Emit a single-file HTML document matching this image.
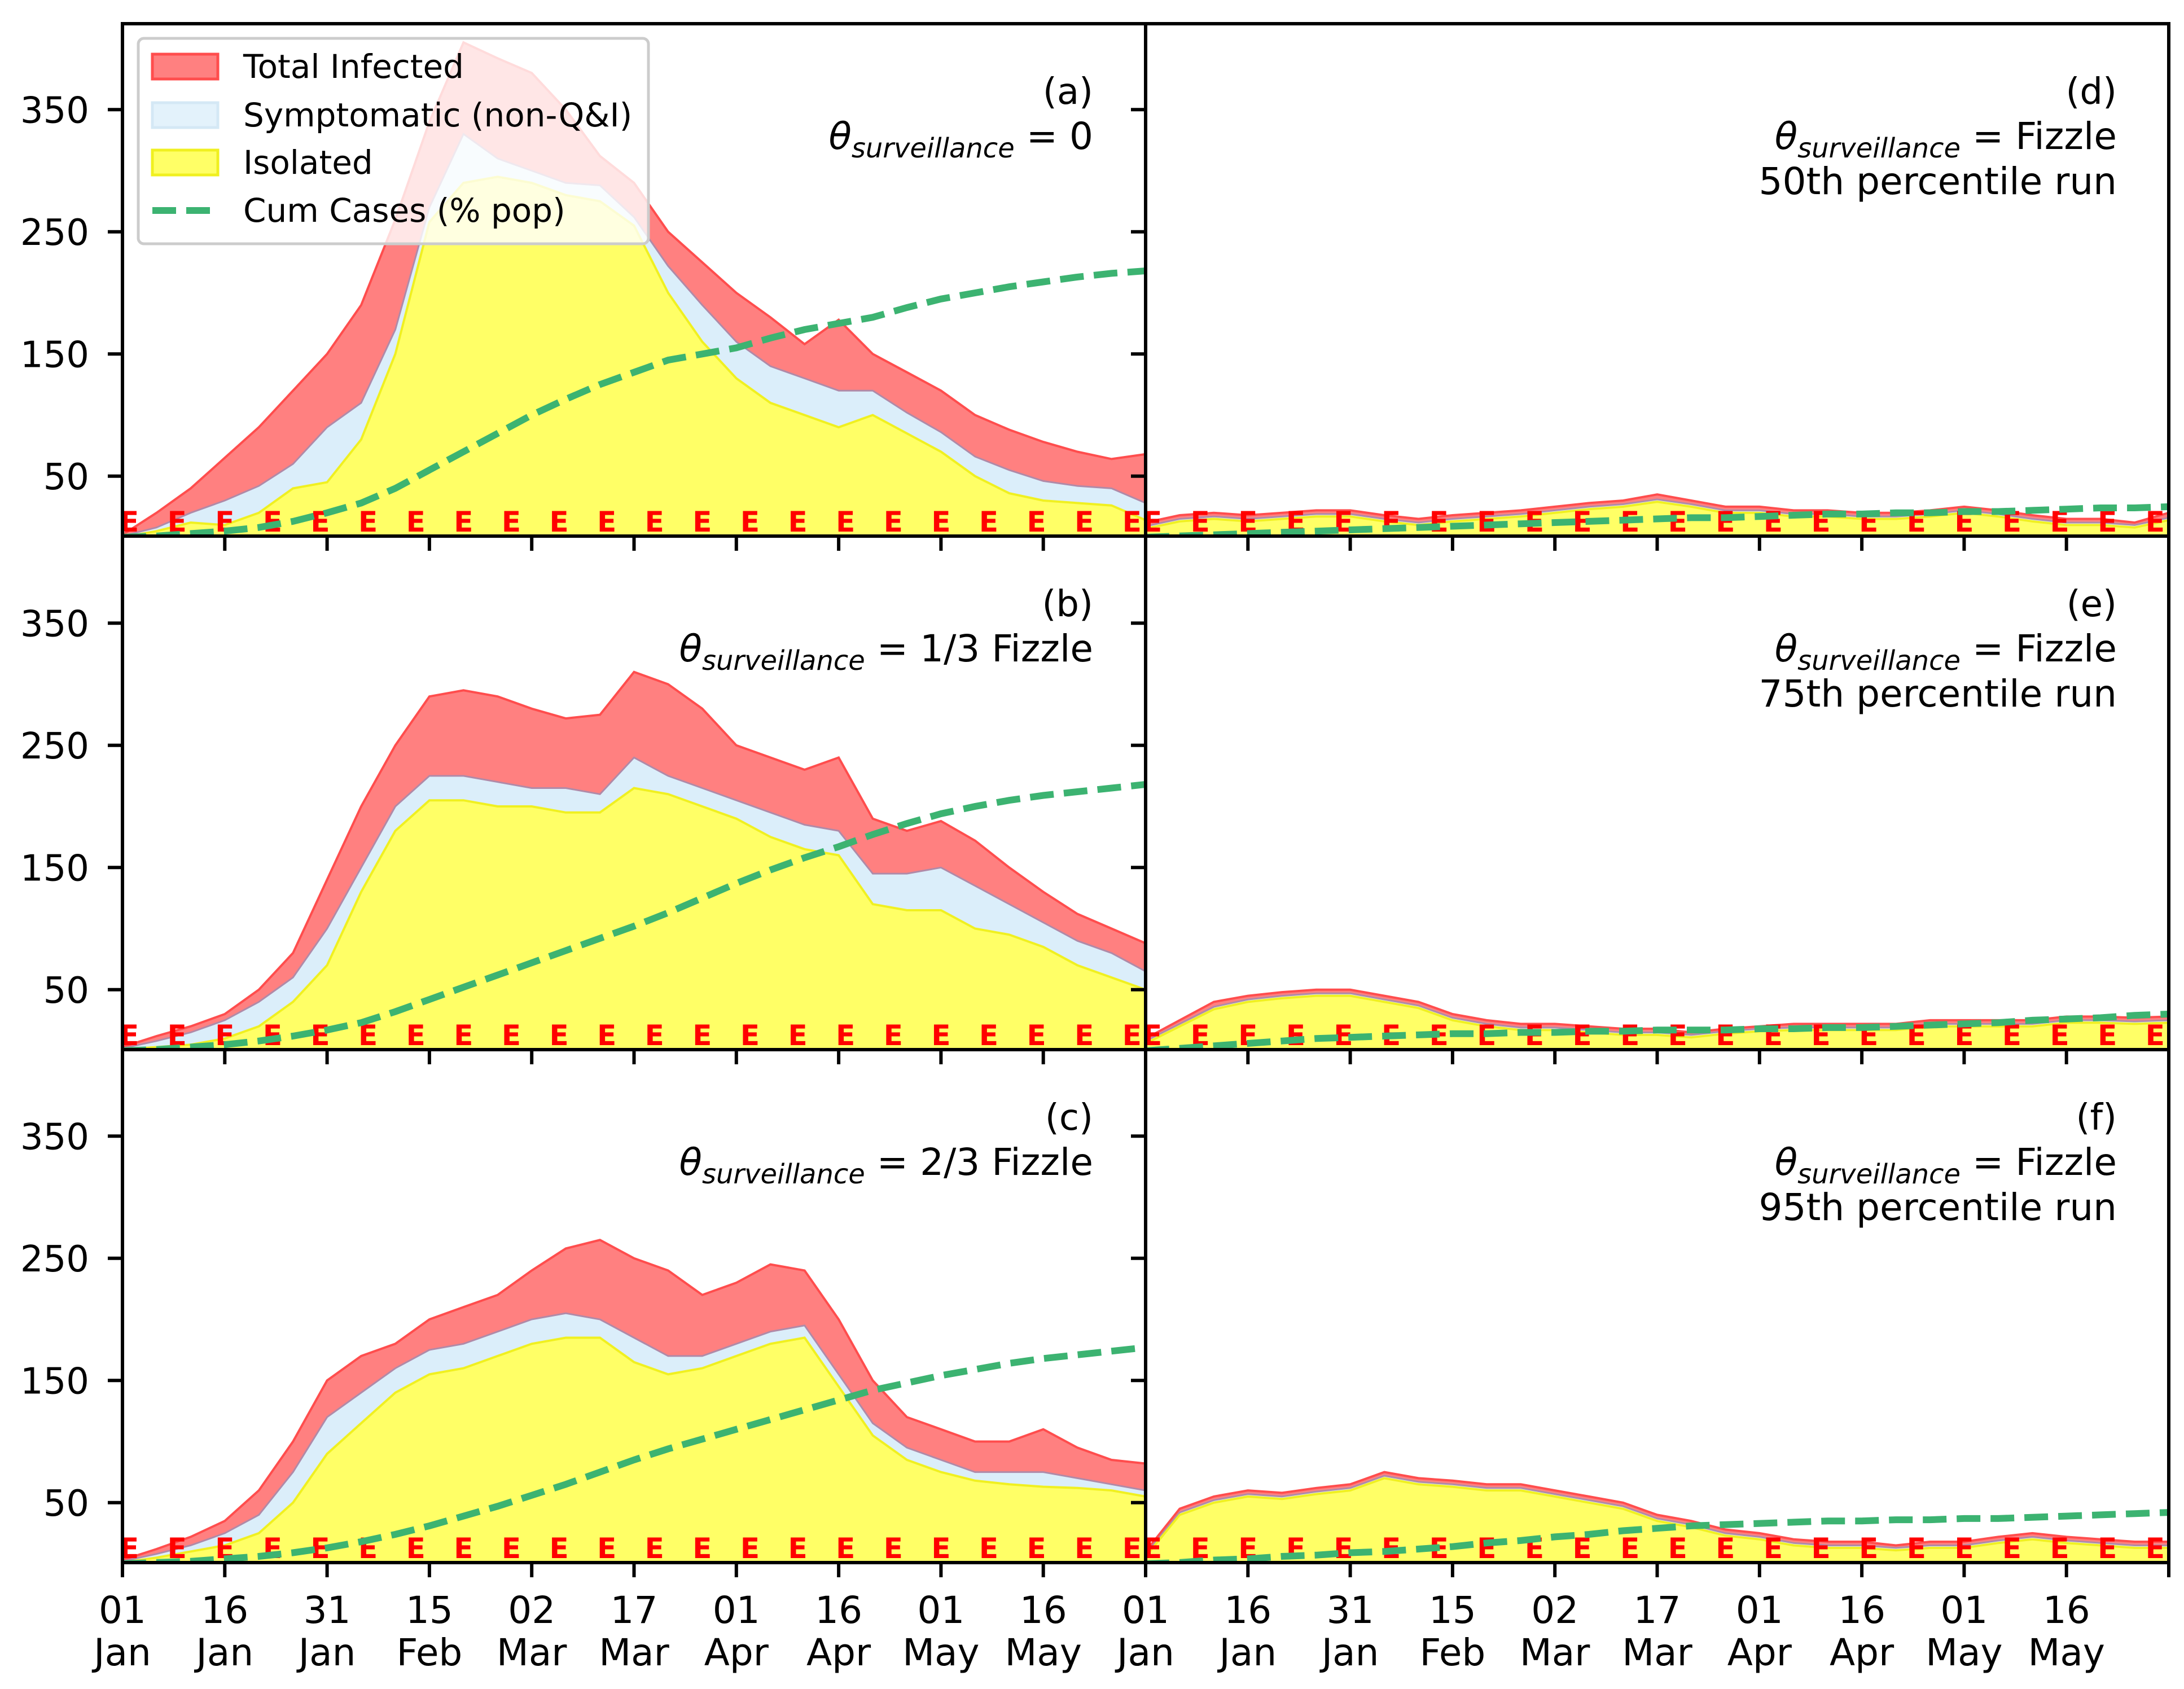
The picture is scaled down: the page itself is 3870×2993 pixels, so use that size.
<!DOCTYPE html>
<html><head><meta charset="utf-8"><style>
html,body{margin:0;padding:0;background:#fff;}
svg{display:block;font-family:"DejaVu Sans","Liberation Sans",sans-serif;}
</style></head><body>
<svg id="chart" xmlns="http://www.w3.org/2000/svg" width="3870" height="2993" viewBox="0 0 3870 2993"></svg>
<script>
// ---- data (values every 5 days, day 0..150) ----
const days = [0,5,10,15,20,25,30,35,40,45,50,55,60,65,70,75,80,85,90,95,100,105,110,115,120,125,130,135,140,145,150];
const panelLabels = ["(a)","(b)","(c)","(d)","(e)","(f)"];
const thetaValues = ["0","1/3 Fizzle","2/3 Fizzle","Fizzle","Fizzle","Fizzle"];
const runLabels = ["","","","50th percentile run","75th percentile run","95th percentile run"];
const yTicks = [50,150,250,350];
const xTickDays = [0,15,30,45,60,75,90,105,120,135,150];
const xTickTop = ["01","16","31","15","02","17","01","16","01","16","01"];
const xTickBottom = ["Jan","Jan","Jan","Feb","Mar","Mar","Apr","Apr","May","May","Jan"];
const eDays = [1,8,15,22,29,36,43,50,57,64,71,78,85,92,99,106,113,120,127,134,141,148];

const totalA = [2,20,40,65,90,120,150,190,260,340,405,392,380,350,312,290,250,225,200,180,158,178,150,135,120,100,88,78,70,64,68];
const symA   = [1,8,20,30,42,60,90,110,170,270,330,310,300,290,288,262,222,190,160,140,130,120,120,102,86,66,55,46,42,40,28];
const isoA   = [0,5,12,10,20,40,45,80,150,258,290,295,290,280,275,255,200,160,130,110,100,90,100,85,70,50,36,30,28,26,14];
const cumA   = [0,1,3,5,8,13,20,28,40,55,70,85,100,113,125,135,145,150,155,163,170,175,180,188,195,200,205,209,213,216,218];

const totalB = [3,12,20,30,50,80,140,200,250,290,295,290,280,272,275,310,300,280,250,240,230,240,190,180,188,172,150,130,112,100,88];
const symB   = [2,8,15,25,40,60,100,150,200,225,225,220,215,215,210,240,225,215,205,195,185,180,145,145,150,135,120,105,90,80,65];
const isoB   = [1,3,5,10,20,40,70,130,180,205,205,200,200,195,195,215,210,200,190,175,165,160,120,115,115,100,95,85,70,60,50];
const cumB   = [0,1,3,5,8,12,17,23,32,42,52,62,72,82,92,102,113,125,137,148,158,167,177,186,194,200,205,209,212,215,218];

const totalC = [3,12,22,35,60,100,150,170,180,200,210,220,240,258,265,250,240,220,230,245,240,200,150,120,110,100,100,110,95,85,82];
const symC   = [2,8,15,25,40,75,120,140,160,175,180,190,200,205,200,185,170,170,180,190,195,155,115,95,85,75,75,75,70,65,60];
const isoC   = [1,5,10,15,25,50,90,115,140,155,160,170,180,185,185,165,155,160,170,180,185,145,105,85,75,68,65,63,62,60,55];
const cumC   = [0,1,2,4,6,9,13,18,24,31,39,47,56,65,75,85,94,102,110,118,126,134,142,148,154,159,164,168,171,174,177];

const totalD = [12,18,20,18,20,22,22,18,15,18,20,22,25,28,30,35,30,25,25,22,22,20,20,22,25,22,18,15,15,12,20];
const symD   = [9,15,17,15,17,19,19,15,12,15,17,19,22,25,27,31,27,22,22,19,19,17,17,19,22,19,15,12,12,10,16];
const isoD   = [7,13,15,13,15,17,17,13,10,13,15,17,20,23,25,29,25,20,20,17,17,15,15,17,20,17,13,10,10,8,14];
const cumD   = [0,1,2,3,4,5,6,7,8,9,10,11,12,13,14,15,16,16,17,18,19,19,20,20,21,21,22,23,24,24,25];

const totalE = [10,25,40,45,48,50,50,45,40,30,25,22,22,20,18,18,15,18,20,22,22,22,22,25,25,25,25,28,28,27,28];
const symE   = [8,22,36,42,45,47,47,42,37,27,22,19,19,17,15,15,13,16,18,19,19,19,19,22,22,22,22,25,25,24,25];
const isoE   = [6,20,34,40,43,45,45,40,35,25,20,17,17,15,13,13,11,14,16,17,17,17,17,20,20,20,20,23,23,22,23];
const cumE   = [0,2,4,6,8,10,11,12,13,14,14,15,15,16,16,17,17,17,18,18,19,19,20,21,22,23,25,26,27,29,30];

const totalF = [10,45,55,60,58,62,65,75,70,68,65,65,60,55,50,40,35,28,25,20,18,18,15,18,18,22,25,22,20,18,18];
const symF   = [8,42,52,57,55,59,62,72,67,65,62,62,57,52,47,37,32,25,22,17,15,15,13,15,15,19,22,19,17,15,15];
const isoF   = [6,40,50,55,53,57,60,70,65,63,60,60,55,50,45,35,30,23,20,15,13,13,11,13,13,17,20,17,15,13,13];
const cumF   = [0,1,3,4,6,7,9,10,12,14,17,19,22,24,27,29,31,32,33,34,35,35,36,36,37,37,38,39,40,41,42];

const totals = [totalA,totalB,totalC,totalD,totalE,totalF];
const syms = [symA,symB,symC,symD,symE,symF];
const isos = [isoA,isoB,isoC,isoD,isoE,isoF];
const cums = [cumA,cumB,cumC,cumD,cumE,cumF];

// ---- layout ----
const NS = "http://www.w3.org/2000/svg";
const svg = document.getElementById('chart');
const colX = [217, 2030];
const panelW = 1813;
const rowTop = [42, 950, 1860];
const rowBot = [950, 1860, 2769];
const pxPerUnit = 2.165;
function mk(tag, attrs, parent) {
  const e = document.createElementNS(NS, tag);
  for (const k in attrs) e.setAttribute(k, attrs[k]);
  (parent || svg).appendChild(e);
  return e;
}
function xScale(col, d) { return colX[col] + d / 150 * panelW; }
function yScale(row, v) { return rowBot[row] + 2 - v * pxPerUnit; }

const defs = mk('defs', {});
for (let p = 0; p < 6; p++) {
  const col = p < 3 ? 0 : 1, row = p % 3;
  const cp = mk('clipPath', {id: 'clip' + p}, defs);
  mk('rect', {x: colX[col], y: rowTop[row], width: panelW, height: rowBot[row] - rowTop[row]}, cp);
}

function areaPath(col, row, arr) {
  let s = 'M' + xScale(col, days[0]) + ',' + yScale(row, 0);
  for (let i = 0; i < days.length; i++) s += 'L' + xScale(col, days[i]).toFixed(1) + ',' + yScale(row, arr[i]).toFixed(1);
  s += 'L' + xScale(col, days[days.length - 1]) + ',' + yScale(row, 0) + 'Z';
  return s;
}
function linePath(col, row, arr) {
  let s = '';
  for (let i = 0; i < days.length; i++) s += (i ? 'L' : 'M') + xScale(col, days[i]).toFixed(1) + ',' + yScale(row, arr[i]).toFixed(1);
  return s;
}

for (let p = 0; p < 6; p++) {
  const col = p < 3 ? 0 : 1, row = p % 3;
  const g = mk('g', {'clip-path': 'url(#clip' + p + ')'});
  
  
  const a1 = mk('path', {d: areaPath(col, row, totals[p]), fill: '#ff8080', stroke: '#ff4d4d', 'stroke-width': 4}, g);
  
  
  const a2 = mk('path', {d: areaPath(col, row, syms[p]), fill: '#dbeefa', stroke: '#b08aa8', 'stroke-width': 3}, g);
  
  
  const a3 = mk('path', {d: areaPath(col, row, isos[p]), fill: '#ffff66', stroke: '#f0f020', 'stroke-width': 4}, g);
  
  
  for (const d of eDays) {
    const t = mk('text', {x: xScale(col, d), y: yScale(row, 13) + 18, fill: '#ff0000', 'font-size': 50, 'font-weight': 'bold', 'text-anchor': 'middle', transform: 'scale(1,1)'}, g);
    t.textContent = 'E';
    
    
  }
  const cl = mk('path', {d: linePath(col, row, cums[p]), fill: 'none', stroke: '#3cb371', 'stroke-width': 12, 'stroke-dasharray': '42 18'}, g);
  
  

  const fr = mk('rect', {x: colX[col], y: rowTop[row], width: panelW, height: rowBot[row] - rowTop[row], fill: 'none', stroke: '#000', 'stroke-width': 6});
  
  
  for (const v of yTicks) {
    const yy = yScale(row, v);
    mk('line', {x1: colX[col] - 26, x2: colX[col], y1: yy, y2: yy, stroke: '#000', 'stroke-width': 6});
    if (col === 0) {
      const t = mk('text', {x: 158, y: yy + 23, 'font-size': 64, 'text-anchor': 'end', fill: '#000'});
      t.textContent = v;
      
      
    }
  }
  for (let i = 0; i < xTickDays.length; i++) {
    const xx = xScale(col, xTickDays[i]);
    mk('line', {x1: xx, x2: xx, y1: rowBot[row], y2: rowBot[row] + 26, stroke: '#000', 'stroke-width': 6});
    if (row === 2 && !(col === 1 && i === xTickDays.length - 1)) {
      const t1 = mk('text', {x: xx, y: 2876, 'font-size': 66, 'text-anchor': 'middle', fill: '#000'});
      t1.textContent = xTickTop[i];
      
      
      const t2 = mk('text', {x: xx, y: 2951, 'font-size': 66, 'text-anchor': 'middle', fill: '#000'});
      t2.textContent = xTickBottom[i];
      
      
    }
  }
  const ax = col === 0 ? 1937 : 3751;
  const ay = rowTop[row];
  const tl = mk('text', {x: ax, y: ay + 142, 'font-size': 64, 'text-anchor': 'end', fill: '#000'});
  tl.textContent = panelLabels[p];
  
  
  const th = mk('text', {x: ax, y: ay + 222, 'font-size': 66, 'text-anchor': 'end', fill: '#000'});
  
  
  const s1 = mk('tspan', {'font-style': 'italic'}, th); s1.textContent = 'θ';
  const s2 = mk('tspan', {'font-style': 'italic', 'font-size': 48, dy: 15}, th); s2.textContent = 'surveillance';
  const s3 = mk('tspan', {dy: -15}, th); s3.textContent = ' = ' + thetaValues[p];
  if (runLabels[p]) {
    const rl = mk('text', {x: ax, y: ay + 302, 'font-size': 66, 'text-anchor': 'end', fill: '#000'});
    rl.textContent = runLabels[p];
    
    
  }
}

const lg = mk('g', {});


mk('rect', {x: 245, y: 68, width: 904, height: 364, rx: 10, fill: 'rgba(255,255,255,0.8)', stroke: '#cccccc', 'stroke-width': 5}, lg);
const legNames = ['Total Infected', 'Symptomatic (non-Q&I)', 'Isolated', 'Cum Cases (% pop)'];
const legY = [118, 204, 288, 373];
const legFill = ['#ff8080', '#e3f2fb', '#ffff66'];
const legStroke = ['#ff4d4d', '#d4e8f5', '#f0f020'];
for (let i = 0; i < 4; i++) {
  const e = mk('g', {}, lg);
  
  
  if (i < 3) mk('rect', {x: 270, y: legY[i] - 22, width: 116, height: 44, fill: legFill[i], stroke: legStroke[i], 'stroke-width': 5}, e);
  else mk('line', {x1: 270, x2: 388, y1: legY[i], y2: legY[i], stroke: '#3cb371', 'stroke-width': 12, 'stroke-dasharray': '42 18'}, e);
  const t = mk('text', {x: 431, y: legY[i] + 20, 'font-size': 58, fill: '#000'}, e);
  t.textContent = legNames[i];
}
</script>
</body></html>
